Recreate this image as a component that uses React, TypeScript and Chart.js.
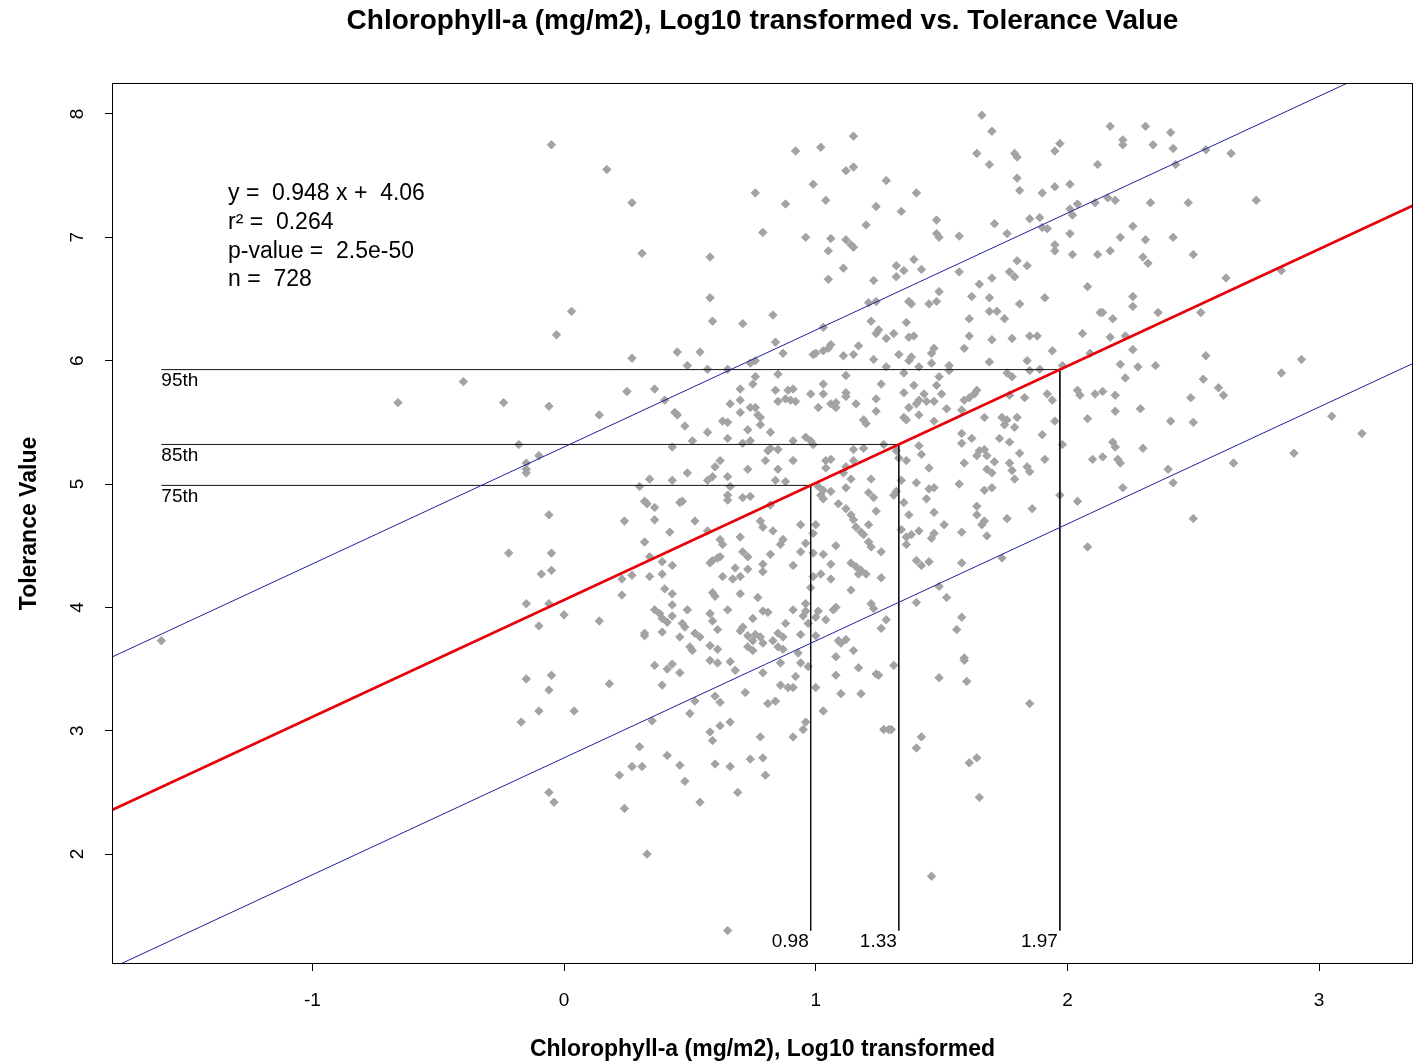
import { useEffect, useRef } from "react";
import { Chart, registerables } from "chart.js";

Chart.register(...registerables);

const FONT = "'Liberation Sans', Arial, Helvetica, sans-serif";

const chartTitle = "Chlorophyll-a (mg/m2), Log10 transformed vs. Tolerance Value";
const xAxisTitle = "Chlorophyll-a (mg/m2), Log10 transformed";
const yAxisTitle = "Tolerance Value";

const xLimits = [-1.796, 3.373];
const yLimits = [1.109, 8.251];
const xTicks = [-1, 0, 1, 2, 3];
const yTicks = [2, 3, 4, 5, 6, 7, 8];

// least-squares fit and the parallel band lines
const slope = 0.948;
const intercept = 4.06;
const upperIntercept = 5.3;
const lowerIntercept = 2.78;

const statLines = ["y =  0.948 x +  4.06", "r\u00b2 =  0.264", "p-value =  2.5e-50", "n =  728"];

const percentileNames = ["95th", "85th", "75th"];
const percentileX = [1.97, 1.33, 0.98];

// [log10 chlorophyll-a, tolerance value]
const observations: [number, number][] = [
  [-1.60, 3.73], [-0.66, 5.66], [-0.40, 5.83], [3.05, 5.55], [3.17, 5.41],
  [-0.05, 7.75], [0.17, 7.55], [0.27, 7.28], [0.31, 6.87], [0.03, 6.40], [-0.03, 6.21], [0.27, 6.02], [0.45, 6.07],
  [0.58, 6.84], [0.76, 7.36], [0.79, 7.04], [0.92, 7.70], [1.02, 7.73], [1.15, 7.82], [1.12, 7.54], [1.15, 7.57],
  [0.99, 7.43], [1.04, 7.30], [0.88, 7.27], [1.28, 7.46], [1.24, 7.25], [1.20, 7.10], [0.96, 7.00], [1.06, 6.99],
  [1.05, 6.89], [1.12, 6.98], [1.14, 6.94], [1.15, 6.92], [1.11, 6.75], [1.05, 6.66], [1.23, 6.65], [0.58, 6.51],
  [0.59, 6.32], [0.71, 6.30], [0.83, 6.37], [1.21, 6.47], [1.24, 6.48], [1.22, 6.32], [1.25, 6.25], [1.24, 6.22],
  [1.28, 6.18], [1.03, 6.27], [0.84, 6.15], [0.54, 6.07], [0.49, 5.96], [0.57, 5.93], [0.65, 5.93], [0.74, 5.98],
  [0.76, 6.00], [0.87, 6.06], [0.99, 6.05], [1.00, 6.06], [1.03, 6.08], [1.05, 6.10], [1.06, 6.13], [1.11, 6.04],
  [1.15, 6.05], [1.17, 6.12], [1.23, 6.01], [1.28, 5.95], [0.76, 5.87], [0.85, 5.89], [1.12, 5.88],
  [1.66, 7.99], [1.70, 7.86], [1.64, 7.68], [1.69, 7.59], [1.79, 7.68], [1.80, 7.65], [1.80, 7.48], [1.81, 7.38],
  [1.95, 7.70], [1.97, 7.76], [1.90, 7.36], [1.95, 7.41], [2.01, 7.43], [2.12, 7.59], [1.40, 7.36], [1.34, 7.21],
  [1.48, 7.14], [1.48, 7.03], [1.49, 7.00], [1.57, 7.01], [1.71, 7.11], [1.76, 7.03], [1.85, 7.15], [1.89, 7.16],
  [1.90, 7.08], [1.92, 7.07], [2.01, 7.23], [2.02, 7.18], [2.04, 7.27], [2.11, 7.28], [2.01, 7.03], [1.95, 6.94],
  [1.95, 6.89], [2.02, 6.86], [2.12, 6.86], [1.32, 6.77], [1.32, 6.68], [1.35, 6.73], [1.39, 6.82], [1.42, 6.74],
  [1.57, 6.72], [1.80, 6.81], [1.84, 6.77], [1.77, 6.72], [1.79, 6.68], [1.70, 6.67], [1.65, 6.62], [1.49, 6.56],
  [1.37, 6.48], [1.38, 6.46], [1.45, 6.46], [1.48, 6.48], [1.62, 6.52], [1.69, 6.51], [1.81, 6.46], [1.91, 6.51],
  [2.08, 6.60], [1.69, 6.40], [1.72, 6.40], [1.75, 6.34], [1.61, 6.34], [1.36, 6.31], [1.31, 6.22], [1.37, 6.19],
  [1.39, 6.20], [1.61, 6.20], [1.70, 6.17], [1.78, 6.18], [1.85, 6.20], [1.88, 6.20], [2.06, 6.22], [2.13, 6.39],
  [1.33, 6.05], [1.47, 6.10], [1.46, 6.06], [1.59, 6.10], [1.38, 6.03], [1.37, 6.00], [1.46, 5.98], [1.41, 5.95],
  [1.53, 5.96], [1.69, 5.99], [1.84, 6.00], [1.94, 6.08], [2.09, 6.06], [1.35, 5.90], [1.49, 5.87], [1.53, 5.92],
  [1.76, 5.90], [1.78, 5.87], [1.85, 5.92], [1.89, 5.93], [1.98, 5.96],
  [2.17, 7.90], [2.31, 7.90], [2.41, 7.85], [2.22, 7.79], [2.22, 7.75], [2.34, 7.75], [2.42, 7.72], [2.43, 7.59],
  [2.55, 7.71], [2.65, 7.68], [2.16, 7.32], [2.19, 7.30], [2.33, 7.28], [2.48, 7.28], [2.75, 7.30], [2.26, 7.09],
  [2.21, 7.00], [2.31, 6.98], [2.42, 7.00], [2.17, 6.89], [2.30, 6.84], [2.32, 6.79], [2.50, 6.86], [2.63, 6.67],
  [2.85, 6.73], [2.26, 6.52], [2.26, 6.44], [2.14, 6.39], [2.18, 6.34], [2.36, 6.39], [2.53, 6.39], [2.17, 6.19],
  [2.23, 6.20], [2.26, 6.09], [2.21, 5.97], [2.28, 5.95], [2.35, 5.96], [2.55, 6.04], [2.93, 6.01], [2.85, 5.90],
  [2.23, 5.86], [2.54, 5.85],
  [2.14, 5.75], [2.19, 5.72], [2.60, 5.78], [2.62, 5.72], [2.49, 5.70], [2.19, 5.59], [2.29, 5.61], [2.41, 5.51],
  [2.50, 5.50], [2.18, 5.34], [2.19, 5.30], [2.30, 5.29], [2.14, 5.22], [2.20, 5.20], [2.21, 5.17], [2.40, 5.12],
  [2.42, 5.01], [2.22, 4.97], [2.66, 5.17], [2.90, 5.25], [2.50, 4.72],
  [-0.24, 5.66], [-0.06, 5.63], [0.14, 5.56], [0.25, 5.75], [0.36, 5.77], [0.40, 5.68], [0.44, 5.58], [0.45, 5.56],
  [-0.18, 5.32], [-0.10, 5.23], [-0.15, 5.17], [-0.15, 5.12], [-0.15, 5.09], [0.43, 5.30], [0.34, 5.04], [0.43, 5.03],
  [0.30, 4.98], [0.46, 4.85], [0.32, 4.86], [0.33, 4.84], [0.36, 4.81], [-0.06, 4.75], [0.24, 4.70], [0.36, 4.71],
  [0.42, 4.61], [0.32, 4.53], [-0.22, 4.44], [-0.05, 4.44], [0.34, 4.41], [0.39, 4.37], [0.43, 4.34], [-0.09, 4.27],
  [-0.05, 4.30], [0.23, 4.23], [0.27, 4.26], [0.34, 4.25], [0.39, 4.27], [0.40, 4.15], [0.43, 4.11], [0.23, 4.10],
  [-0.15, 4.03], [-0.06, 4.03], [0.00, 3.94], [-0.10, 3.85], [0.14, 3.89], [0.36, 3.98], [0.38, 3.95], [0.39, 3.91],
  [0.43, 4.02], [0.43, 3.93], [0.41, 3.88], [0.32, 3.79], [0.32, 3.77], [0.39, 3.80], [0.46, 3.76],
  [-0.15, 3.42], [-0.05, 3.45], [-0.06, 3.33], [-0.10, 3.16], [0.04, 3.16], [-0.17, 3.07], [0.18, 3.38], [0.36, 3.53],
  [0.41, 3.50], [0.43, 3.54], [0.46, 3.47], [0.39, 3.37], [0.35, 3.08], [0.30, 2.87], [0.41, 2.80], [0.46, 2.72],
  [0.27, 2.71], [0.31, 2.71], [0.22, 2.64], [-0.06, 2.50], [-0.04, 2.42], [0.24, 2.37], [0.33, 2.00],
  [0.58, 3.57], [0.61, 3.55], [0.66, 3.56], [0.68, 3.49], [0.79, 3.47], [0.86, 3.55], [0.94, 3.55], [0.97, 3.52],
  [0.92, 3.44], [0.86, 3.37], [0.89, 3.35], [0.91, 3.35], [0.72, 3.31], [0.60, 3.28], [0.62, 3.23], [0.52, 3.24],
  [0.50, 3.14], [0.81, 3.22], [0.84, 3.24], [0.62, 3.04], [0.66, 3.07], [0.58, 2.99], [0.59, 2.92], [0.78, 2.95],
  [0.91, 2.95], [0.95, 3.01], [0.96, 3.07], [0.48, 2.59], [0.60, 2.73], [0.66, 2.71], [0.74, 2.77], [0.79, 2.78],
  [0.80, 2.64], [0.69, 2.50], [0.54, 2.42], [0.65, 1.38], [1.00, 3.35], [1.08, 3.45], [1.17, 3.51], [1.24, 3.46],
  [1.25, 3.45], [1.10, 3.30], [1.18, 3.30], [1.03, 3.16], [1.27, 3.01], [1.29, 3.01],
  [1.31, 3.53], [1.59, 3.57], [1.49, 3.43], [1.60, 3.40], [1.85, 3.22], [1.30, 3.01], [1.42, 2.95], [1.40, 2.86],
  [1.64, 2.78], [1.61, 2.74], [1.65, 2.46], [1.46, 1.82],
  [1.39, 5.80], [1.48, 5.80], [1.50, 5.73], [1.35, 5.74], [1.43, 5.73], [1.41, 5.68], [1.40, 5.65], [1.44, 5.67],
  [1.47, 5.67], [1.37, 5.62], [1.52, 5.61], [1.59, 5.68], [1.61, 5.70], [1.63, 5.73], [1.64, 5.76], [1.58, 5.60],
  [1.35, 5.54], [1.36, 5.52], [1.41, 5.56], [1.47, 5.51], [1.67, 5.54], [1.74, 5.54], [1.76, 5.52], [1.75, 5.48],
  [1.80, 5.54], [1.79, 5.46], [1.83, 5.70], [1.77, 5.72], [1.92, 5.73], [1.94, 5.68], [1.95, 5.51], [1.90, 5.40],
  [1.98, 5.32], [2.04, 5.76], [2.05, 5.72], [2.11, 5.73], [2.08, 5.53], [1.58, 5.41], [1.58, 5.33], [1.62, 5.37],
  [1.73, 5.37], [1.77, 5.34], [1.41, 5.31], [1.42, 5.24], [1.36, 5.19], [1.32, 5.27], [1.33, 5.21], [1.45, 5.13],
  [1.59, 5.17], [1.65, 5.27], [1.67, 5.28], [1.68, 5.23], [1.64, 5.23], [1.71, 5.18], [1.68, 5.12], [1.70, 5.09],
  [1.77, 5.17], [1.78, 5.11], [1.79, 5.04], [1.81, 5.25], [1.84, 5.14], [1.85, 5.10], [1.91, 5.20], [2.10, 5.20],
  [1.34, 5.03], [1.40, 5.01], [1.45, 4.96], [1.47, 4.97], [1.44, 4.88], [1.57, 5.00], [1.67, 4.95], [1.70, 4.97],
  [1.32, 4.94], [1.31, 4.91], [1.35, 4.85], [1.37, 4.75], [1.47, 4.77], [1.64, 4.82], [1.64, 4.75], [1.51, 4.67],
  [1.41, 4.62], [1.34, 4.63], [1.36, 4.57], [1.36, 4.51], [1.38, 4.59], [1.47, 4.60], [1.46, 4.56], [1.58, 4.61],
  [1.67, 4.70], [1.66, 4.67], [1.68, 4.58], [1.76, 4.72], [1.86, 4.80], [1.97, 4.91], [2.04, 4.86], [2.08, 4.49],
  [1.40, 4.38], [1.42, 4.34], [1.45, 4.37], [1.58, 4.36], [1.74, 4.40], [1.49, 4.17], [1.52, 4.08], [1.40, 4.04],
  [1.58, 3.92], [1.56, 3.82], [1.59, 3.59],
  [0.75, 5.81], [0.70, 5.77], [0.84, 5.76], [0.85, 5.67], [0.89, 5.76], [0.91, 5.77], [0.88, 5.69], [0.90, 5.68],
  [0.92, 5.67], [0.98, 5.73], [1.03, 5.73], [1.03, 5.81], [1.12, 5.74], [1.12, 5.71], [1.24, 5.69], [1.26, 5.81],
  [0.66, 5.65], [0.70, 5.58], [0.70, 5.68], [0.74, 5.62], [0.76, 5.62], [0.77, 5.56], [0.78, 5.54], [1.01, 5.62],
  [1.06, 5.65], [1.08, 5.62], [1.08, 5.66], [1.16, 5.65], [1.24, 5.59], [0.63, 5.51], [0.65, 5.50], [0.48, 5.47],
  [0.73, 5.44], [0.78, 5.48], [0.82, 5.42], [1.19, 5.52], [1.20, 5.49], [0.57, 5.42], [0.51, 5.35], [0.65, 5.37],
  [0.71, 5.33], [0.74, 5.35], [0.91, 5.35], [0.96, 5.38], [0.98, 5.35], [0.99, 5.32], [0.81, 5.27], [0.82, 5.29],
  [0.85, 5.28], [1.15, 5.28], [1.19, 5.29], [1.27, 5.32], [0.62, 5.19], [0.60, 5.14], [0.49, 5.09], [0.57, 5.03],
  [0.59, 5.06], [0.65, 5.06], [0.73, 5.12], [0.80, 5.19], [0.85, 5.12], [0.91, 5.19], [0.84, 5.03], [0.88, 5.02],
  [0.66, 4.98], [1.04, 5.19], [1.06, 5.20], [1.04, 5.13], [1.12, 5.14], [1.11, 5.09], [1.15, 5.19], [1.14, 5.04],
  [1.12, 4.97], [1.22, 5.04], [1.01, 4.98], [1.03, 4.95], [1.02, 4.91], [1.06, 4.94], [1.03, 4.88], [0.65, 4.91],
  [0.65, 4.87], [0.71, 4.89], [0.74, 4.90], [0.82, 4.83], [0.47, 4.86], [1.21, 4.93], [1.23, 4.89], [1.09, 4.84],
  [1.12, 4.80], [1.14, 4.75], [1.24, 4.78], [0.52, 4.70], [0.78, 4.70], [0.79, 4.65], [0.83, 4.62], [0.87, 4.55],
  [0.86, 4.51], [0.94, 4.67], [1.00, 4.67], [0.99, 4.60], [1.15, 4.71], [1.16, 4.65], [1.18, 4.61], [1.19, 4.59],
  [1.21, 4.67], [0.57, 4.62], [0.62, 4.55], [0.63, 4.51], [0.70, 4.57], [0.96, 4.52], [1.08, 4.50], [1.21, 4.53],
  [1.22, 4.49], [1.26, 4.45], [0.94, 4.45], [0.99, 4.44], [1.03, 4.43], [0.71, 4.45], [0.73, 4.41], [0.82, 4.43],
  [0.59, 4.38], [0.58, 4.36], [0.61, 4.40], [0.62, 4.41], [0.68, 4.32], [0.73, 4.31], [0.79, 4.35], [0.79, 4.29],
  [0.91, 4.34], [1.06, 4.35], [1.14, 4.36], [1.16, 4.33], [1.18, 4.30], [1.20, 4.27], [1.17, 4.27], [0.63, 4.25],
  [0.67, 4.23], [0.70, 4.25], [1.02, 4.27], [0.99, 4.25], [1.06, 4.23], [1.26, 4.24], [0.59, 4.12], [0.60, 4.09],
  [0.70, 4.11], [0.77, 4.08], [0.98, 4.16], [1.14, 4.14], [0.49, 3.98], [0.58, 3.95], [0.65, 3.98], [0.79, 3.97],
  [0.81, 3.96], [0.75, 3.91], [0.91, 3.98], [0.96, 4.03], [0.96, 3.97], [0.95, 3.93], [1.01, 3.97], [1.00, 3.92],
  [1.07, 3.98], [1.08, 4.00], [1.04, 3.90], [1.22, 4.03], [1.23, 3.99], [1.28, 3.90], [0.47, 3.87], [0.48, 3.84],
  [0.59, 3.89], [0.52, 3.79], [0.54, 3.76], [0.61, 3.82], [0.71, 3.84], [0.70, 3.81], [0.73, 3.77], [0.76, 3.78],
  [0.78, 3.76], [0.75, 3.73], [0.79, 3.71], [0.85, 3.79], [0.87, 3.76], [0.83, 3.73], [0.88, 3.87], [0.94, 3.78],
  [0.97, 3.87], [1.00, 3.77], [1.09, 3.73], [1.10, 3.71], [1.12, 3.74], [1.26, 3.83], [0.50, 3.68], [0.51, 3.65],
  [0.58, 3.69], [0.61, 3.66], [0.73, 3.68], [0.75, 3.65], [0.85, 3.68], [0.87, 3.66], [0.93, 3.63], [1.15, 3.65],
  [1.08, 3.60],
];

const minX = Math.min(...observations.map((p) => p[0]));
const minY = Math.min(...observations.map((p) => p[1]));

const lineAt = (b: number) => xLimits.map((x) => ({ x, y: slope * x + b }));

const decorations = {
  id: "decorations",
  afterDraw(chart: any) {
    const { ctx, chartArea: a, scales } = chart;
    const sx = scales.x;
    const sy = scales.y;
    ctx.save();
    ctx.strokeStyle = "#000";
    ctx.lineWidth = 1;
    ctx.strokeRect(a.left + 0.5, a.top + 0.5, a.right - a.left - 1, a.bottom - a.top - 1);

    ctx.fillStyle = "#000";
    const cx = (a.left + a.right) / 2;

    // main title
    ctx.font = `bold 28px ${FONT}`;
    ctx.textAlign = "center";
    ctx.textBaseline = "middle";
    ctx.fillText(chartTitle, cx, 21);

    // axis titles
    ctx.font = `bold 23px ${FONT}`;
    ctx.fillText(xAxisTitle, cx, a.bottom + 86);
    ctx.save();
    ctx.translate(30, (a.top + a.bottom) / 2);
    ctx.rotate(-Math.PI / 2);
    ctx.fillText(yAxisTitle, 0, 0);
    ctx.restore();

    // tick labels
    ctx.font = `19px ${FONT}`;
    xTicks.forEach((v) => {
      ctx.fillText(String(v), sx.getPixelForValue(v), a.bottom + 37);
    });
    yTicks.forEach((v) => {
      ctx.save();
      ctx.translate(a.left - 34, sy.getPixelForValue(v));
      ctx.rotate(-Math.PI / 2);
      ctx.fillText(String(v), 0, 0);
      ctx.restore();
    });

    // fit statistics
    ctx.font = `23px ${FONT}`;
    ctx.textAlign = "left";
    statLines.forEach((s, i) => {
      ctx.fillText(s, a.left + 116, a.top + 111 + i * 28.7);
    });

    // percentile labels
    ctx.font = `19px ${FONT}`;
    percentileX.forEach((xp, i) => {
      const yp = slope * xp + intercept;
      ctx.textAlign = "left";
      ctx.fillText(percentileNames[i], sx.getPixelForValue(minX), sy.getPixelForValue(yp) + 11);
      ctx.textAlign = "right";
      ctx.fillText(xp.toFixed(2), sx.getPixelForValue(xp) - 2, sy.getPixelForValue(minY) + 11);
    });
    ctx.restore();
  },
};

export default function App() {
  const canvasRef = useRef<HTMLCanvasElement>(null);

  useEffect(() => {
    document.body.style.margin = "0";
    const canvas = canvasRef.current;
    if (!canvas) return;

    const guide = (xp: number) => {
      const yp = slope * xp + intercept;
      return [
        { x: minX, y: yp },
        { x: xp, y: yp },
        { x: xp, y: minY },
      ];
    };

    const lineStyle = (color: string, width: number) => ({
      showLine: true,
      borderColor: color,
      backgroundColor: color,
      borderWidth: width,
      pointRadius: 0,
      pointHoverRadius: 0,
      fill: false,
      tension: 0,
    });

    const chart = new Chart(canvas, {
      type: "scatter",
      data: {
        datasets: [
          { data: lineAt(intercept), ...lineStyle("#e8000b", 2.6), order: 0 },
          { data: lineAt(upperIntercept), ...lineStyle("#1f1f9e", 1), order: 1 },
          { data: lineAt(lowerIntercept), ...lineStyle("#1f1f9e", 1), order: 1 },
          ...percentileX.map((xp) => ({ data: guide(xp), ...lineStyle("#111", 1), order: 2 })),
          {
            data: observations.map(([x, y]) => ({ x, y })),
            pointStyle: "rectRot",
            pointRadius: 4.2,
            pointBorderWidth: 1,
            pointBackgroundColor: "#a3a3a3",
            pointBorderColor: "#a3a3a3",
            showLine: false,
            order: 10,
          },
        ] as any,
      },
      options: {
        responsive: false,
        animation: false,
        devicePixelRatio: 1,
        events: [],
        layout: { padding: { left: 0, right: 6, top: 83, bottom: 0 } },
        plugins: {
          legend: { display: false },
          tooltip: { enabled: false },
          title: { display: false },
        },
        scales: {
          x: {
            type: "linear",
            min: xLimits[0],
            max: xLimits[1],
            afterFit: (s: any) => {
              s.height = 98;
            },
            afterBuildTicks: (s: any) => {
              s.ticks = xTicks.map((value) => ({ value }));
            },
            ticks: { display: false },
            grid: { drawOnChartArea: false, drawTicks: true, tickLength: 7, color: "#000", lineWidth: 1 },
            border: { display: false },
          },
          y: {
            type: "linear",
            min: yLimits[0],
            max: yLimits[1],
            afterFit: (s: any) => {
              s.width = 112;
            },
            afterBuildTicks: (s: any) => {
              s.ticks = yTicks.map((value) => ({ value }));
            },
            ticks: { display: false },
            grid: { drawOnChartArea: false, drawTicks: true, tickLength: 7, color: "#000", lineWidth: 1 },
            border: { display: false },
          },
        },
      } as any,
      plugins: [decorations],
    });

    return () => chart.destroy();
  }, []);

  return (
    <div style={{ width: 1419, height: 1062, background: "#fff" }}>
      <canvas ref={canvasRef} width={1419} height={1062} style={{ display: "block" }} />
    </div>
  );
}
